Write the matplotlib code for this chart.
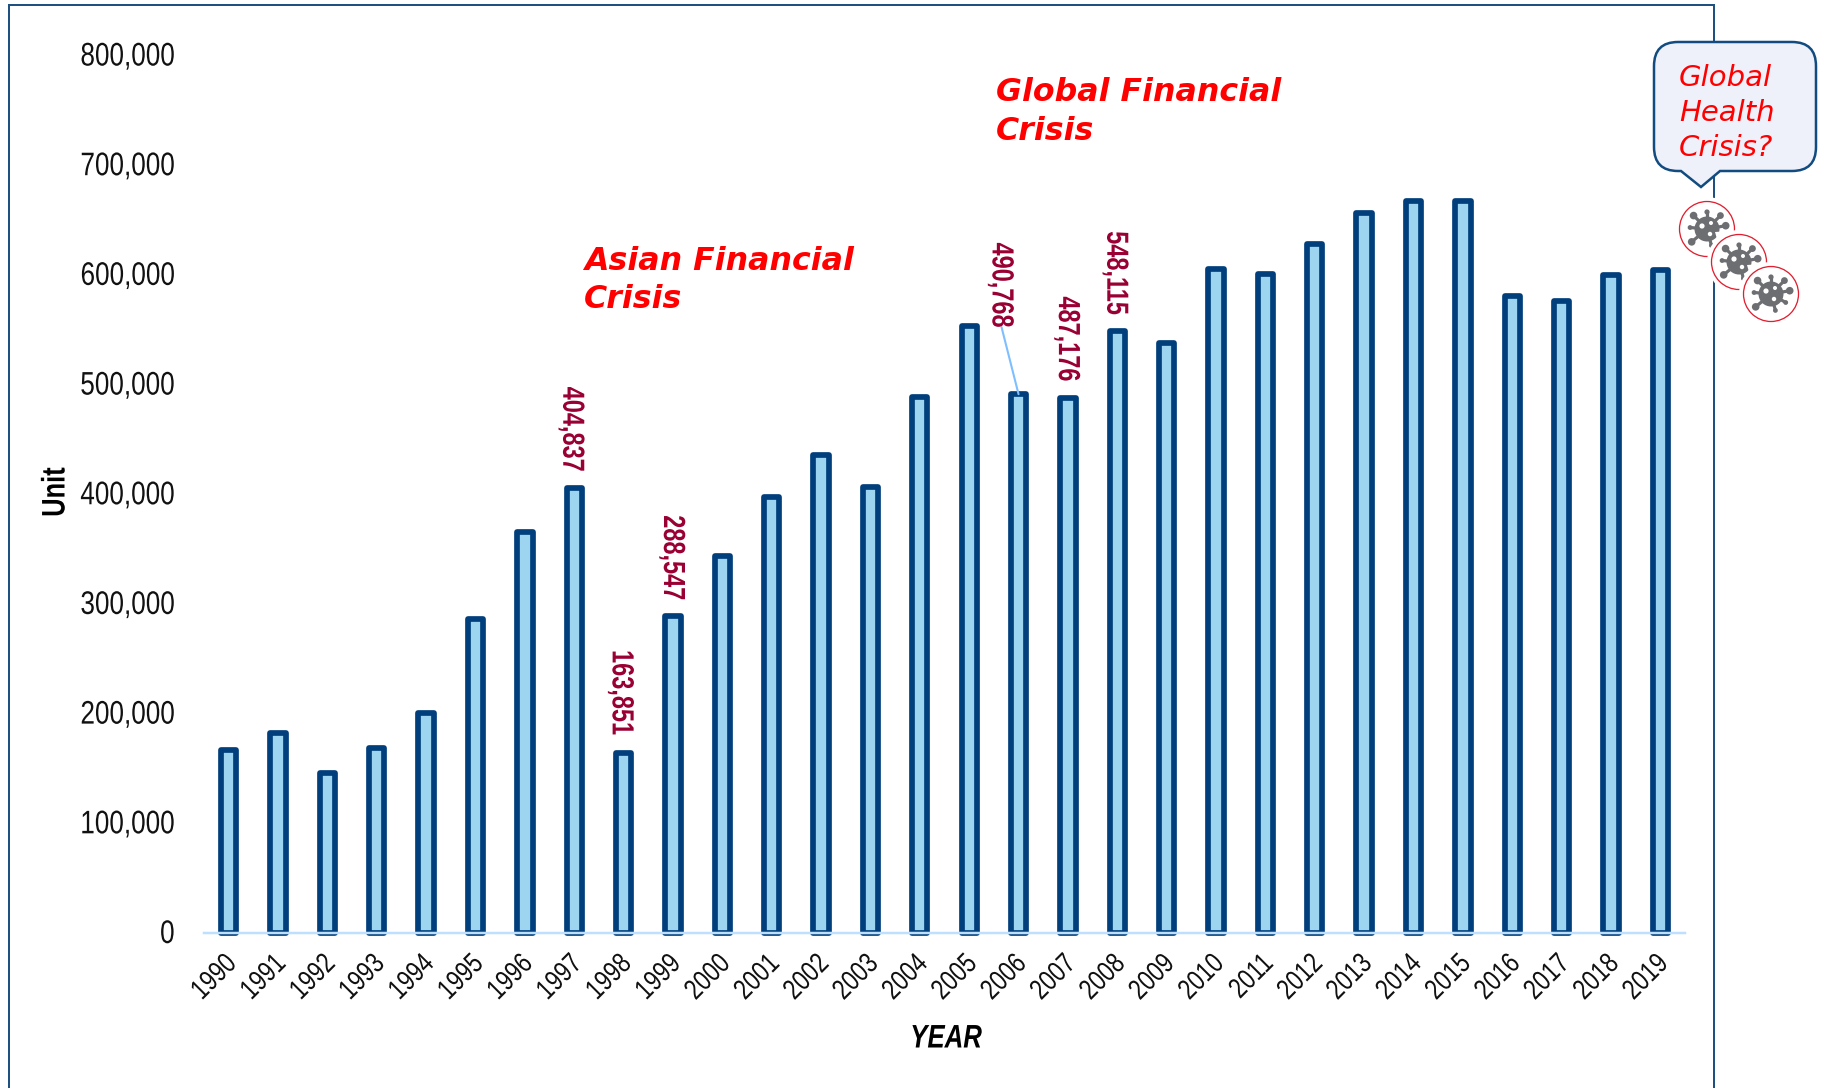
import numpy as np
import matplotlib
matplotlib.use("Agg")
import matplotlib.pyplot as plt
from matplotlib.path import Path
from matplotlib.patches import PathPatch, Circle, Polygon
from matplotlib.patheffects import AbstractPathEffect
from matplotlib.transforms import Affine2D, ScaledTranslation
from matplotlib.ticker import FuncFormatter

years = list(range(1990, 2020))
units = [166000, 182000, 145000, 168000, 200000, 286000, 365000, 404837, 163851, 288547,
         343000, 397000, 435000, 406000, 488000, 553000, 490768, 487176, 548115, 537000,
         605000, 600000, 628000, 656000, 667000, 667000, 580000, 576000, 599000, 604000]
labelled = {1997: (-3, 59), 1998: (-3, 60), 1999: (-1, 58), 2006: (-18, 109), 2007: (-1, 59), 2008: (-2, 58)}


class Condense(AbstractPathEffect):
    """Narrow a text along its own direction, holding one point of it still."""
    def __init__(self, sx, anchor):
        super().__init__()
        self.sx, self.anchor = sx, anchor

    def draw_path(self, renderer, gc, tpath, affine, rgbFace=None):
        xs = tpath.vertices[:, 0]
        a = xs.min() + (xs.max() - xs.min()) * self.anchor
        t = Affine2D().translate(-a, 0).scale(self.sx, 1).translate(a, 0) + affine
        renderer.draw_path(gc, tpath, t, rgbFace)


BASE = 'Liberation Sans'
W, H = 1824, 1088
fig = plt.figure(figsize=(W/100, H/100), dpi=100, facecolor='white')
px = 72/100
ax = fig.add_axes([204/W, 1-932.5/H, (1685-204)/W, (932.5-55)/H])
ax.set_xlim(-0.5, 29.5)
ax.set_ylim(0, 800000)
ax.patch.set_alpha(0)

x = np.arange(len(years))
ax.bar(x, units, width=0.31, color='#9DD5F0', edgecolor='#003F7C', linewidth=5.7*px,
       zorder=2, clip_on=False, joinstyle='round')

for s in ['top', 'right', 'left']:
    ax.spines[s].set_visible(False)
ax.spines['bottom'].set_color('#BFDFFF')
ax.spines['bottom'].set_linewidth(2.5*px)
ax.spines['bottom'].set_zorder(3)
ax.set_axisbelow(False)

ax.set_xticks(x)
ax.set_xticklabels([str(y) for y in years], rotation=45, ha='right', va='top',
                   rotation_mode='anchor', family=BASE, fontsize=20.5, color='#111111')
ax.set_yticks(np.arange(0, 800001, 100000))
ax.yaxis.set_major_formatter(FuncFormatter(lambda v, _: f'{int(v):,}'))
ax.tick_params(axis='y', length=0, pad=21, labelsize=23.5, labelcolor='#111111')
ax.tick_params(axis='x', length=0, pad=13)
for t in ax.get_yticklabels():
    t.set_family(BASE)
    t.set_path_effects([Condense(0.8, 1.0)])
    t.set_transform(t.get_transform() + ScaledTranslation(0, 1.5/100, fig.dpi_scale_trans))
for t in ax.get_xticklabels():
    t.set_path_effects([Condense(0.8, 1.0)])
    t.set_transform(t.get_transform() + ScaledTranslation(-5/100, 0, fig.dpi_scale_trans))

for yr, (dx, dy) in labelled.items():
    i = years.index(yr)
    ax.annotate(f'{units[i]:,}', xy=(i, units[i]), xytext=(dx, dy), textcoords='offset pixels',
                rotation=270, ha='center', va='center', family=BASE, fontweight='bold',
                fontsize=22, color='#990033', zorder=5,
                path_effects=[Condense(0.77, 0.5)])

i06 = years.index(2006)
ax.annotate('', xy=(i06, units[i06]), xytext=(-17, 67), textcoords='offset pixels',
            arrowprops=dict(arrowstyle='-', color='#7FBFFF', lw=1.5, shrinkA=0, shrinkB=0), zorder=4)

# overlay in reference pixels for frame, annotations and callout
ov = fig.add_axes([0, 0, 1, 1], zorder=10)
ov.set_xlim(0, W); ov.set_ylim(H, 0); ov.axis('off'); ov.patch.set_alpha(0)
ov.plot([9, 9, 1714, 1714], [1088, 5, 5, 1088], color='#1F5082', lw=2*px, solid_joinstyle='miter')

ov.text(56, 492, 'Unit', rotation=90, ha='center', va='center', family=BASE,
        fontweight='bold', fontsize=23.5, color='black', path_effects=[Condense(0.78, 0.5)])
ov.text(946, 1039, 'YEAR', ha='center', va='center', family=BASE, fontweight='bold',
        fontstyle='italic', fontsize=23.5, color='black', path_effects=[Condense(0.79, 0.5)])

ov.text(584, 280.5, 'Asian Financial\nCrisis', ha='left', va='center', color='red', family='DejaVu Sans',
        fontweight='bold', fontstyle='italic', fontsize=22.8, linespacing=1.3)
ov.text(996, 112, 'Global Financial\nCrisis', ha='left', va='center', color='red', family='DejaVu Sans',
        fontweight='bold', fontstyle='italic', fontsize=22.8, linespacing=1.3)

# callout
l, r, t, b, c = 1654, 1816, 42, 171, 24
verts = [(l+c, t), (r-c, t), (r, t), (r, t+c), (r, b-c), (r, b), (r-c, b), (1720, b), (1701, 187), (1681, b),
         (l+c, b), (l, b), (l, b-c), (l, t+c), (l, t), (l+c, t), (l+c, t)]
codes = [Path.MOVETO, Path.LINETO, Path.CURVE3, Path.CURVE3, Path.LINETO, Path.CURVE3, Path.CURVE3,
         Path.LINETO, Path.LINETO, Path.LINETO, Path.LINETO, Path.CURVE3, Path.CURVE3, Path.LINETO,
         Path.CURVE3, Path.CURVE3, Path.CLOSEPOLY]
ov.add_patch(PathPatch(Path(verts, codes), facecolor='#EEF0FA', edgecolor='#114B80', lw=2.5*px, zorder=3))
ov.text(1679, 113, 'Global\nHealth\nCrisis?', ha='left', va='center', color='red', family='DejaVu Sans',
        fontstyle='italic', fontsize=21, linespacing=1.33, zorder=4)

# virus icons
GREY = '#6D6E71'
def virus(cx, cy, z, notch):
    ov.add_patch(Circle((cx, cy), 32, fc='white', ec='none', zorder=z))
    ov.add_patch(Circle((cx, cy), 27.5, fc='white', ec='#E02030', lw=1.3*px, zorder=z))
    ov.add_patch(Circle((cx, cy), 12.5, fc=GREY, ec='none', zorder=z))
    for a, ln, rd in [(-10, 19, 3.8), (30, 17, 2.4), (75, 17, 2.4), (140, 20, 3.8), (185, 17, 2.4),
                      (225, 19, 3.8), (270, 17, 2.6), (315, 19, 3.4)]:
        th = np.deg2rad(a)
        ex, ey = cx+ln*np.cos(th), cy+ln*np.sin(th)
        ov.plot([cx, ex], [cy, ey], color=GREY, lw=3.2*px, zorder=z, solid_capstyle='butt')
        ov.add_patch(Circle((ex, ey), rd, fc=GREY, ec='none', zorder=z))
    ov.add_patch(Circle((cx-5, cy-3), 2.6, fc='white', ec='none', zorder=z))
    ov.add_patch(Circle((cx+4, cy-6), 2.0, fc='white', ec='none', zorder=z))
    ov.add_patch(Circle((cx+3, cy+5), 2.2, fc='white', ec='none', zorder=z))
    if notch:
        ov.add_patch(Polygon([(cx+8, cy+3), (cx+22, cy+2), (cx+22, cy+10), (cx+10, cy+10)],
                             fc='white', ec='none', zorder=z))

virus(1707, 229, 5, True)
virus(1739, 262, 6, True)
virus(1771, 294, 7, False)

fig.savefig('out.png', dpi=100, facecolor='white')
